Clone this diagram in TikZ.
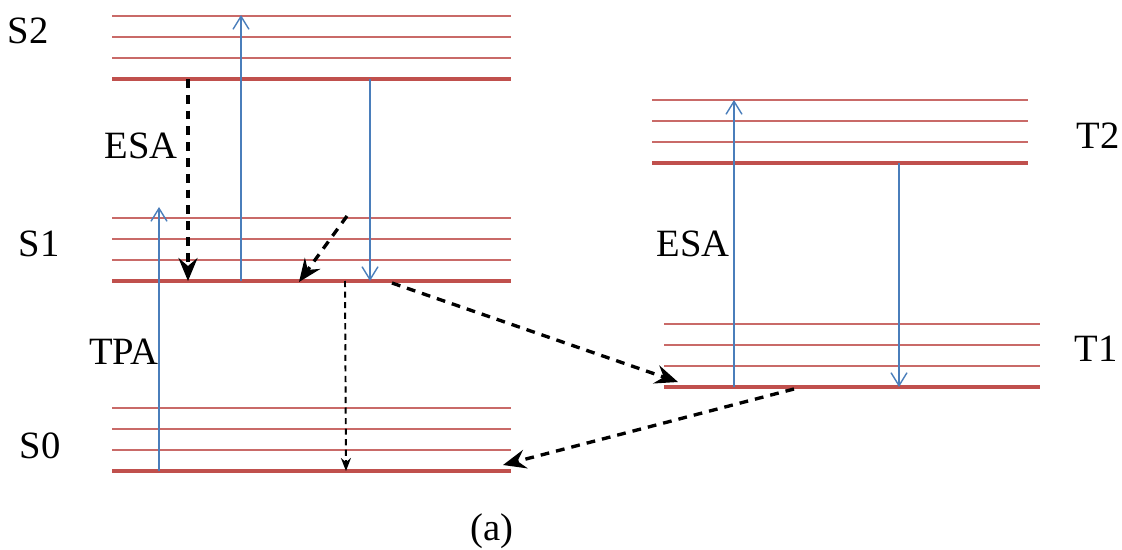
\documentclass[tikz,border=0pt]{standalone}
\usepackage{fontspec}
\setmainfont{LiberationSerif}[Extension=.ttf, UprightFont=*-Regular, BoldFont=*-Bold]
\usetikzlibrary{arrows.meta}
\definecolor{enRed}{HTML}{C0504D}
\definecolor{enBlue}{HTML}{4A7EBB}
\tikzset{
  en thick/.style={draw=enRed, line width=2.6pt},
  en thin/.style={draw=enRed!85, line width=0.7pt},
  en photon/.style={draw=enBlue, line width=0.8pt, -{Straight Barb[length=2.6mm, width=3.2mm]}},
  en decay/.style={draw=black, line width=1.9pt, dash pattern=on 5pt off 4pt, -{Stealth[length=4.6mm, width=3.8mm, inset=1.6mm]}},
  en fall/.style={draw=black, line width=1.1pt, dash pattern=on 3.5pt off 2.5pt, -{Stealth[length=2.6mm, width=2mm]}},
  en label/.style={font=\rmfamily\fontsize{22}{25}\selectfont, inner sep=0pt},
}
\begin{document}
\begin{tikzpicture}[x=0.02cm, y=-0.02cm]
  \useasboundingbox (0,0) rectangle (1122,550);

  % singlet levels
  \foreach \yb in {79,281,471} {
    \draw[en thick] (112,\yb) -- (511,\yb);
    \foreach \k in {1,2,3}
      \draw[en thin] (112,\yb-\k*21) -- (511,\yb-\k*21);
  }
  % triplet levels
  \draw[en thick] (652,163) -- (1028,163);
  \foreach \k in {1,2,3}
    \draw[en thin] (652,163-\k*21) -- (1028,163-\k*21);
  \draw[en thick] (664,387) -- (1040,387);
  \foreach \k in {1,2,3}
    \draw[en thin] (664,387-\k*21) -- (1040,387-\k*21);

  % labels
  \node[en label] (s2) at (28,31) {S2};
  \node[en label] (s1) at (39,244) {S1};
  \node[en label] (s0) at (40,446) {S0};
  \node[en label] (t2) at (1098,136) {T2};
  \node[en label] (t1) at (1096,349) {T1};
  \node[en label] (esaS) at (141,146) {ESA};
  \node[en label] (esaT) at (693,244) {ESA};
  \node[en label] (tpa) at (124,352) {TPA};
  \node[en label] (cap) at (492,531) {(a)};

  % end points of the transitions
  \coordinate (tpaA) at (159,471);
  \coordinate (tpaB) at (159,207);
  \coordinate (esaA) at (241,281);
  \coordinate (esaB) at (241,15);
  \coordinate (emA) at (370,79);
  \coordinate (emB) at (370,281);
  \coordinate (icA) at (188,79);
  \coordinate (icB) at (188,281);
  \coordinate (vrA) at (347,216);
  \coordinate (vrB) at (299,282);
  \coordinate (flA) at (345,281);
  \coordinate (flB) at (346,471);
  \coordinate (iscA) at (392,283);
  \coordinate (iscB) at (678,382);
  \coordinate (phA) at (794,389);
  \coordinate (phB) at (503,465);
  \coordinate (tesaA) at (734,387);
  \coordinate (tesaB) at (734,100);
  \coordinate (tdnA) at (899,163);
  \coordinate (tdnB) at (899,387);

  % transitions
  \draw[en photon] (tpaA) -- (tpaB);
  \draw[en photon] (esaA) -- (esaB);
  \draw[en photon] (emA) -- (emB);
  \draw[en photon] (tesaA) -- (tesaB);
  \draw[en photon] (tdnA) -- (tdnB);
  \draw[en decay] (icA) -- (icB);
  \draw[en decay] (vrA) -- (vrB);
  \draw[en decay] (iscA) -- (iscB);
  \draw[en decay] (phA) -- (phB);
  \draw[en fall] (flA) -- (flB);
\end{tikzpicture}
\end{document}
